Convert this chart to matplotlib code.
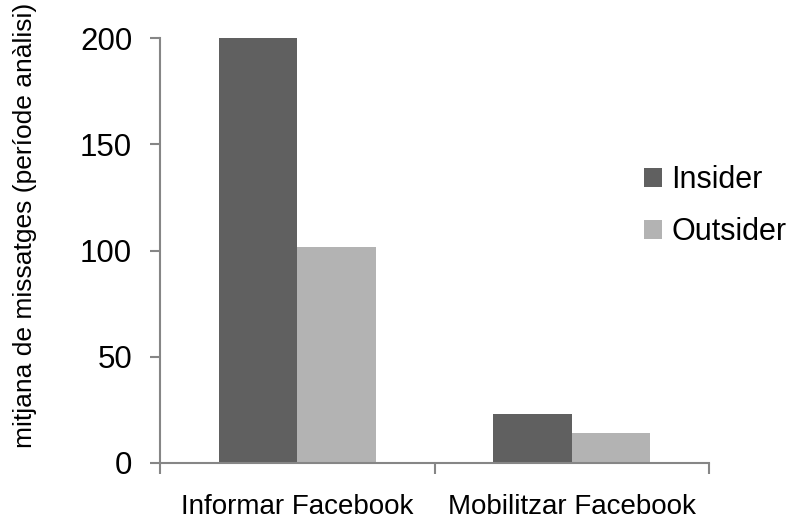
import matplotlib
matplotlib.use("Agg")
import matplotlib.pyplot as plt
import numpy as np
from matplotlib.patches import Patch

plt.rcParams['font.family'] = ['Liberation Sans', 'DejaVu Sans']

categories = ["Informar Facebook", "Mobilitzar Facebook"]
series_names = ["Insider", "Outsider"]
insider = [200, 23.1]
outsider = [101.7, 14.1]
yticks = [0, 50, 100, 150, 200]

colors = ["#606060", "#b3b3b3"]
axis_color = "#868686"

fig = plt.figure(figsize=(7.91, 5.19), dpi=100)
ax = fig.add_axes([160 / 791, 56 / 519, 549 / 791, 424.7 / 519])

x = np.arange(len(categories))
w = 1 / 3.5
ax.bar(x - w / 2, insider, width=w, color=colors[0], linewidth=0)
ax.bar(x + w / 2, outsider, width=w, color=colors[1], linewidth=0)

ax.set_xlim(-0.5, len(categories) - 0.5)
ax.set_ylim(0, 200)
ax.set_yticks(yticks)
ax.set_yticklabels([str(v) for v in yticks], fontsize=22.5)

ax.set_xticks(np.arange(-0.5, len(categories), 1.0))
ax.set_xticklabels([])
ax.set_xticks(x, minor=True)
ax.set_xticklabels(categories, minor=True, fontsize=20)
ax.tick_params(axis='x', which='minor', length=0, pad=22)
ax.tick_params(axis='x', which='major', length=8, width=1.5, color=axis_color, direction='out')
ax.tick_params(axis='y', length=7, width=1.5, color=axis_color, direction='out', pad=13)

for side in ("top", "right"):
    ax.spines[side].set_visible(False)
for side in ("left", "bottom"):
    ax.spines[side].set_color(axis_color)
    ax.spines[side].set_linewidth(1.5)

fig.text(25 / 791, 1 - 225 / 519, "mitjana de missatges (període anàlisi)",
         rotation=90, ha='center', va='center', fontsize=19)

handles = [Patch(facecolor=c, edgecolor='none') for c in colors]
fig.legend(handles, series_names, loc='center left', bbox_to_anchor=(623 / 791, 1 - 206.5 / 519),
           frameon=False, fontsize=22, handlelength=0.59, handleheight=0.59,
           handletextpad=0.3, labelspacing=0.72, borderpad=0.2)

fig.savefig("out.png", dpi=100)
